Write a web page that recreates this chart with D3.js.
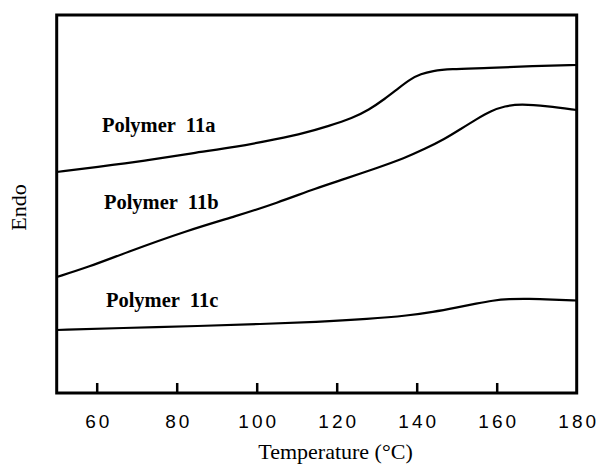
<!DOCTYPE html>
<html><head><meta charset="utf-8">
<script src="https://cdn.jsdelivr.net/npm/d3@7"></script>
<style>html,body{margin:0;padding:0;background:#fff;}</style>
</head><body>
<svg id="chart" width="601" height="473"></svg>
<script>
// Data (temperature °C, endo signal arbitrary units)
const temps11a = [50, 60, 72, 84, 95, 105, 112, 118, 124, 128, 132, 135.5, 138.5, 141, 144, 148, 158, 169, 180];
const endo11a  = [22.1, 22.6, 23.2, 24.0, 24.6, 25.4, 26.0, 26.7, 27.5, 28.3, 29.4, 30.5, 31.4, 31.9, 32.2, 32.4, 32.5, 32.7, 32.8];
const temps11b = [50, 58, 67, 83, 95, 105, 115, 122, 130, 137, 142, 147, 151, 155, 158.5, 162, 166, 172.6, 180];
const endo11b  = [11.6, 12.6, 14.0, 16.3, 17.7, 19.0, 20.5, 21.4, 22.5, 23.5, 24.4, 25.4, 26.4, 27.4, 28.2, 28.7, 28.9, 28.7, 28.3];
const temps11c = [50, 66, 86, 101, 115, 128, 138, 144, 150, 155, 159, 163, 168, 174, 180];
const endo11c  = [6.3, 6.5, 6.7, 6.9, 7.1, 7.4, 7.75, 8.1, 8.55, 8.95, 9.25, 9.4, 9.42, 9.35, 9.25];
const seriesNames = ["Polymer  11a", "Polymer  11b", "Polymer  11c"];
const labelTemps = [61.3, 61.8, 62.3];
const labelEndo = [26.1, 18.4, 8.6];
const xTicks = [60, 80, 100, 120, 140, 160, 180];
const xTitle = "Temperature (°C)";
const yTitle = "Endo";

const svg = d3.select("#chart");
const L = 56.7, R = 576.7, T = 15, B = 393;
const x = d3.scaleLinear().domain([50, 180]).range([L, R]);
const y = d3.scaleLinear().domain([0, 37.8]).range([B, T]);

const series = [
  temps11a.map((t, i) => [t, endo11a[i]]),
  temps11b.map((t, i) => [t, endo11b[i]]),
  temps11c.map((t, i) => [t, endo11c[i]])
];

const line = d3.line().x(d => x(d[0])).y(d => y(d[1])).curve(d3.curveBasis);
svg.append("g").selectAll("path").data(series).join("path")
  .attr("d", line).attr("fill", "none").attr("stroke", "#000").attr("stroke-width", 2.2);

// frame
svg.append("rect").attr("x", L).attr("y", T).attr("width", R - L).attr("height", B - T)
  .attr("fill", "none").attr("stroke", "#000").attr("stroke-width", 3);

// x axis ticks inward
const xAxis = d3.axisBottom(x).tickValues(xTicks).tickSizeInner(-10).tickSizeOuter(0).tickPadding(22);
const gx = svg.append("g").attr("transform", `translate(0,${B})`).call(xAxis);
gx.select(".domain").remove();
gx.selectAll(".tick line").attr("stroke", "#000").attr("stroke-width", 2.5);
gx.selectAll(".tick text")
  .attr("font-family", "'Liberation Sans', Arial, sans-serif")
  .attr("font-size", 19).attr("fill", "#000")
  .attr("letter-spacing", 3).attr("dx", 1.5);
gx.selectAll(".tick").filter(d => d === 180).select("line").remove();

// labels
svg.append("g").selectAll("text").data(seriesNames).join("text")
  .attr("x", (d, i) => x(labelTemps[i]))
  .attr("y", (d, i) => y(labelEndo[i]))
  .attr("font-family", "'Liberation Serif', 'Times New Roman', serif")
  .attr("font-weight", "bold").attr("font-size", 20.5)
  .attr("xml:space", "preserve").style("white-space", "pre")
  .text(d => d);

// axis titles
svg.append("text").attr("x", 335.5).attr("y", 459).attr("text-anchor", "middle")
  .attr("font-family", "'Liberation Serif', 'Times New Roman', serif").attr("font-size", 22)
  .text(xTitle);
svg.append("text").attr("transform", "translate(26,207.5) rotate(-90)").attr("text-anchor", "middle")
  .attr("font-family", "'Liberation Serif', 'Times New Roman', serif").attr("font-size", 22)
  .text(yTitle);
</script>
</body></html>
